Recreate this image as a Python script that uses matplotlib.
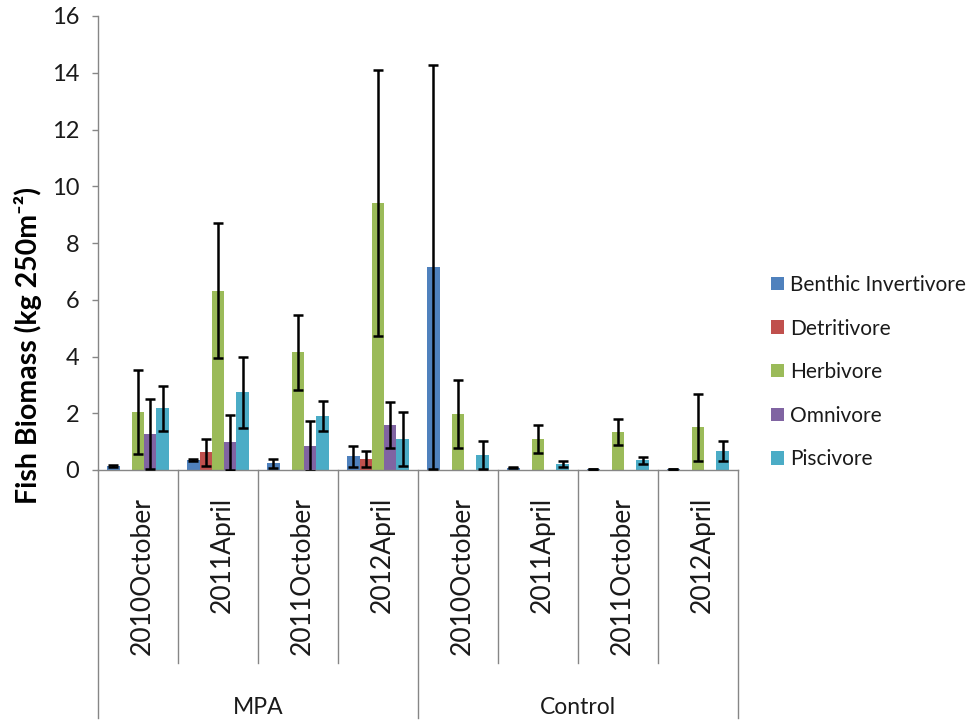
import numpy as np
import matplotlib
matplotlib.use("Agg")
import matplotlib.pyplot as plt
import matplotlib.transforms as mtransforms
from matplotlib.patches import Patch

plt.rcParams['font.family'] = ['Lato', 'DejaVu Sans']

# Sampling periods within each site type
periods = ["2010October", "2011April", "2011October", "2012April",
           "2010October", "2011April", "2011October", "2012April"]
sites = ["MPA", "Control"]
guilds = ["Benthic Invertivore", "Detritivore", "Herbivore", "Omnivore", "Piscivore"]
colors = ["#4F81BD", "#C0504D", "#9BBB59", "#8064A2", "#4BACC6"]

# Mean biomass (kg 250 m^-2); nan = guild not recorded
benthic = [0.14, 0.35, 0.24, 0.49, 7.15, 0.08, 0.04, 0.04]
detritivore = [np.nan, 0.62, np.nan, 0.38, np.nan, np.nan, np.nan, np.nan]
herbivore = [2.05, 6.32, 4.15, 9.40, 1.98, 1.09, 1.34, 1.50]
omnivore = [1.26, 0.97, 0.86, 1.59, np.nan, np.nan, np.nan, np.nan]
piscivore = [2.17, 2.74, 1.90, 1.09, 0.53, 0.20, 0.34, 0.67]

# Standard errors
benthic_se = [0.03, 0.04, 0.16, 0.37, 7.13, 0.02, 0.01, 0.01]
detritivore_se = [np.nan, 0.48, np.nan, 0.29, np.nan, np.nan, np.nan, np.nan]
herbivore_se = [1.48, 2.38, 1.32, 4.68, 1.20, 0.49, 0.46, 1.17]
omnivore_se = [1.24, 0.98, 0.88, 0.80, np.nan, np.nan, np.nan, np.nan]
piscivore_se = [0.80, 1.26, 0.53, 0.94, 0.48, 0.10, 0.12, 0.35]

means = [benthic, detritivore, herbivore, omnivore, piscivore]
errors = [benthic_se, detritivore_se, herbivore_se, omnivore_se, piscivore_se]

W, H = 970, 724
fig = plt.figure(figsize=(W / 100, H / 100), dpi=100)
x0, x1, ytop, ybot = 98, 738, 16, 470
ax = fig.add_axes([x0 / W, 1 - ybot / H, (x1 - x0) / W, (ybot - ytop) / H])

x = np.arange(len(periods))
bw = 0.154
for i, (m, e, c, name) in enumerate(zip(means, errors, colors, guilds)):
    m = np.asarray(m, float)
    e = np.asarray(e, float)
    pos = x + (i - 2) * bw
    ok = ~np.isnan(m)
    ax.bar(pos[ok], m[ok], width=bw, color=c, edgecolor='none', label=name, zorder=2)
    ax.errorbar(pos[ok], m[ok], yerr=e[ok], fmt='none', ecolor='black',
                elinewidth=1.8, capsize=3.6, capthick=1.8, zorder=3)

ax.set_xlim(-0.5, len(periods) - 0.5)
ax.set_ylim(0, 16)
ax.set_yticks(np.arange(0, 17, 2))
axis_grey = "#868686"
text_col = '#1a1a1a'
for s in ['top', 'right']:
    ax.spines[s].set_visible(False)
ax.spines['left'].set_color(axis_grey)
ax.spines['bottom'].set_color(axis_grey)
ax.spines['left'].set_linewidth(1.0)
ax.spines['bottom'].set_linewidth(1.0)
ax.tick_params(axis='y', direction='out', length=4.5, width=1.0, color=axis_grey,
               labelsize=17, pad=9, labelcolor=text_col)
ax.tick_params(axis='x', bottom=False, labelbottom=False)

ax.set_ylabel("Fish Biomass (kg 250m\u207b\u00b2)", fontsize=20.5,
              fontweight='bold', va='center')
ax.yaxis.set_label_coords(-(98 - 28) / (x1 - x0), (ybot - 345) / (ybot - ytop))

# Hierarchical category axis below the plot
trans = mtransforms.blended_transform_factory(ax.transData, ax.transAxes)
ah = ybot - ytop
inner_end = -(663 - ybot) / ah
outer_end = -(718 - ybot) / ah
for b in np.arange(0.5, len(periods) - 0.5):
    end = outer_end if b == 3.5 else inner_end
    ax.plot([b, b], [0, end], transform=trans, color=axis_grey, lw=1.0, clip_on=False)
for b in [-0.5, len(periods) - 0.5]:
    ax.plot([b, b], [0, outer_end], transform=trans, color=axis_grey, lw=1.0, clip_on=False)

for xi, lab in zip(x, periods):
    ax.text(xi + 0.05, -(497 - ybot) / ah, lab, transform=trans, rotation=90,
            ha='center', va='top', fontsize=19, color=text_col)
for gi, s in enumerate(sites):
    ax.text(gi * 4 + 1.5, -(708 - ybot) / ah, s, transform=trans,
            ha='center', va='center', fontsize=16.5, color=text_col)

handles = [Patch(facecolor=c, edgecolor='none') for c in colors]
fig.legend(handles, guilds, loc='upper left', bbox_to_anchor=(771 / W, 1 - 275 / H),
           frameon=False, fontsize=15, handlelength=0.62, handleheight=0.62,
           handletextpad=0.3, labelspacing=1.13, borderaxespad=0, borderpad=0,
           labelcolor=text_col)

fig.savefig("out.png", dpi=100)
